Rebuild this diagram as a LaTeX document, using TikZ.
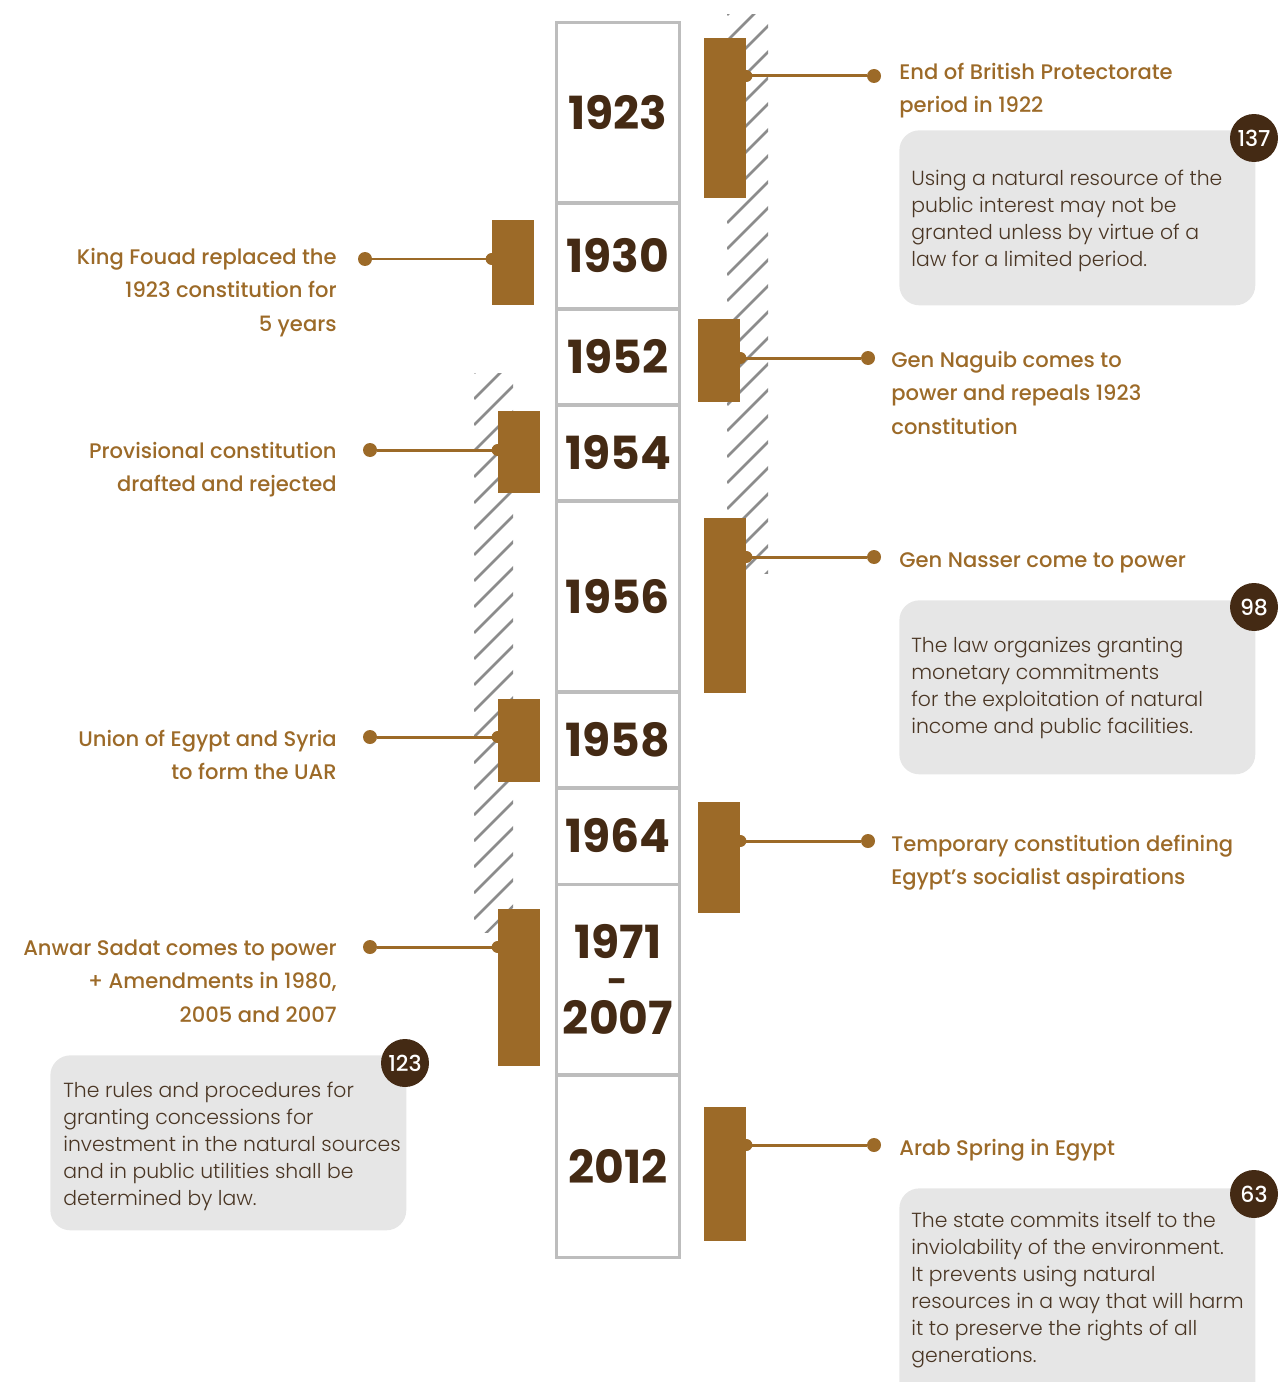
\documentclass[tikz,border=0pt]{standalone}
\usepackage{fontspec}
\setmainfont{Poppins}
\newfontfamily\lightfont{Poppins Light}
\newfontfamily\evtfont{Poppins Medium}
\usetikzlibrary{positioning}

\definecolor{barbrown}{HTML}{9C6A28}
\definecolor{yeardark}{HTML}{442A14}
\definecolor{cellgray}{HTML}{BDBDBD}
\definecolor{hatchgray}{HTML}{8C8C8C}
\definecolor{notegray}{HTML}{E6E6E6}
\definecolor{notetext}{HTML}{4A3624}

\tikzset{
  yearcell/.style={draw=cellgray, line width=0.06cm, minimum width=2.48cm, inner sep=0,
    text=yeardark, align=center, font=\bfseries\fontsize{26}{30}\selectfont},
  hatch/.style={draw=hatchgray, line width=0.05cm},
  bar/.style={fill=barbrown, minimum width=0.84cm, inner sep=0},
  dot/.style={circle, fill=barbrown, minimum size=0.28cm, inner sep=0},
  link/.style={draw=barbrown, line width=0.06cm},
  evt/.style={text=barbrown, inner sep=0, font=\evtfont\fontsize{12}{19}\selectfont},
  evtR/.style={evt, align=left, anchor=base west},
  evtL/.style={evt, align=right, anchor=base east},
  note/.style={fill=notegray, rounded corners=0.4cm, inner sep=0, anchor=north west,
    minimum width=7.12cm},
  notetxt/.style={text=notetext, inner sep=0, align=left, anchor=base west,
    font=\lightfont\fontsize{11.6}{15.3}\selectfont},
  badge/.style={circle, fill=yeardark, text=white, minimum size=0.96cm, inner sep=0,
    font=\evtfont\fontsize{12.5}{12.5}\selectfont},
}

\begin{document}
\begin{tikzpicture}[x=0.02cm, y=-0.02cm]
  \useasboundingbox (0,0) rectangle (1283,1382);

  % hatched periods
  \begin{scope}
    \clip (727,15) rectangle (768,573);
    \foreach \k in {0,...,24}
      \draw[hatch] (727,{15+26*\k}) -- ++(60,-60);
  \end{scope}
  \begin{scope}
    \clip (474,373) rectangle (513,932);
    \foreach \k in {0,...,24}
      \draw[hatch] (474,{373+26*\k}) -- ++(60,-60);
  \end{scope}

  % year column
  \node[yearcell, minimum height=3.62cm] (c1923) at (618,112.5) {1923};
  \node[yearcell, minimum height=2.12cm] (c1930) at (618,256) {1930};
  \node[yearcell, minimum height=1.92cm] (c1952) at (618,357) {1952};
  \node[yearcell, minimum height=1.92cm] (c1954) at (618,453) {1954};
  \node[yearcell, minimum height=3.82cm] (c1956) at (618,596.5) {1956};
  \node[yearcell, minimum height=1.92cm] (c1958) at (618,740) {1958};
  \node[yearcell, minimum height=1.92cm] (c1964) at (618,836) {1964};
  \node[yearcell, minimum height=3.82cm, font=\bfseries\fontsize{26}{21.5}\selectfont]
    (c1971) at (618,979.5) {1971\\{\fontsize{20}{20}\selectfont\raisebox{1.5pt}{-}}\\2007};
  \node[yearcell, minimum height=3.66cm] (c2012) at (618,1166.5) {2012};

  % bars
  \node[bar, minimum height=3.2cm] (r1) at (725,118) {};
  \node[bar, minimum height=1.66cm] (r2) at (719,360.5) {};
  \node[bar, minimum height=3.5cm] (r3) at (725,605.5) {};
  \node[bar, minimum height=2.22cm] (r4) at (719,857.5) {};
  \node[bar, minimum height=2.68cm] (r5) at (725,1174) {};
  \node[bar, minimum height=1.7cm] (l1) at (513,262.5) {};
  \node[bar, minimum height=1.64cm] (l2) at (519,452) {};
  \node[bar, minimum height=1.66cm] (l3) at (519,740.5) {};
  \node[bar, minimum height=3.14cm] (l4) at (519,987.5) {};

  % connectors right
  \node[dot] (r1dot) at (874,76) {};
  \node[dot] (r2dot) at (868,358) {};
  \node[dot] (r3dot) at (874,557) {};
  \node[dot] (r4dot) at (868,841) {};
  \node[dot] (r5dot) at (874,1145) {};
  \foreach \n in {r1,r2,r3,r4,r5} {
    \draw[link] (\n dot) -- (\n dot -| \n.east);
    \fill[barbrown] (\n dot -| \n.east) circle (0.12cm);
  }

  % connectors left
  \node[dot] (l1dot) at (365,259) {};
  \node[dot] (l2dot) at (370,450) {};
  \node[dot] (l3dot) at (370,737) {};
  \node[dot] (l4dot) at (370,947) {};
  \foreach \n in {l1,l2,l3,l4} {
    \draw[link] (\n dot) -- (\n dot -| \n.west);
    \fill[barbrown] (\n dot -| \n.west) circle (0.12cm);
  }

  % events (placed at the baseline of their last line)
  \node[evtR] (r1txt) at (899,112.5) {End of British Protectorate\\period in 1922};
  \node[evtR] (r2txt) at (891,434) {Gen Naguib comes to\\power and repeals 1923\\constitution};
  \node[evtR] (r3txt) at (899,567) {Gen Nasser come to power};
  \node[evtR] (r4txt) at (891,884.5) {Temporary constitution defining\\Egypt’s socialist aspirations};
  \node[evtR] (r5txt) at (899,1155) {Arab Spring in Egypt};
  \node[evtL] (l1txt) at (337,331) {King Fouad replaced the\\1923 constitution for\\5 years};
  \node[evtL] (l2txt) at (337,491.5) {Provisional constitution\\drafted and rejected};
  \node[evtL] (l3txt) at (337,779.5) {Union of Egypt and Syria\\to form the UAR};
  \node[evtL] (l4txt) at (337,1022) {Anwar Sadat comes to power\\+ Amendments in 1980,\\2005 and 2007};

  % articles
  \node[note, minimum height=3.5cm] (n137) at (899,130) {};
  \node[notetxt] (n137txt) at (911,266) {Using a natural resource of the\\public interest may not be\\granted unless by virtue of a\\law for a limited period.};
  \node[badge] (b137) at (1254,138) {137};

  \node[note, minimum height=3.48cm] (n98) at (899,600) {};
  \node[notetxt] (n98txt) at (911,733) {The law organizes granting\\monetary commitments\\for the exploitation of natural\\income and public facilities.};
  \node[badge] (b98) at (1254,607) {98};

  \node[note, minimum height=3.5cm] (n123) at (50,1055) {};
  \node[notetxt] (n123txt) at (63,1205) {The rules and procedures for\\granting concessions for\\investment in the natural sources\\and in public utilities shall be\\determined by law.};
  \node[badge] (b123) at (405,1063) {123};

  \node[note, minimum height=4.4cm] (n63) at (899,1188) {};
  \node[notetxt] (n63txt) at (911,1362) {The state commits itself to the\\inviolability of the environment.\\It prevents using natural\\resources in a way that will harm\\it to preserve the rights of all\\generations.};
  \node[badge] (b63) at (1254,1194) {63};
\end{tikzpicture}
\end{document}
